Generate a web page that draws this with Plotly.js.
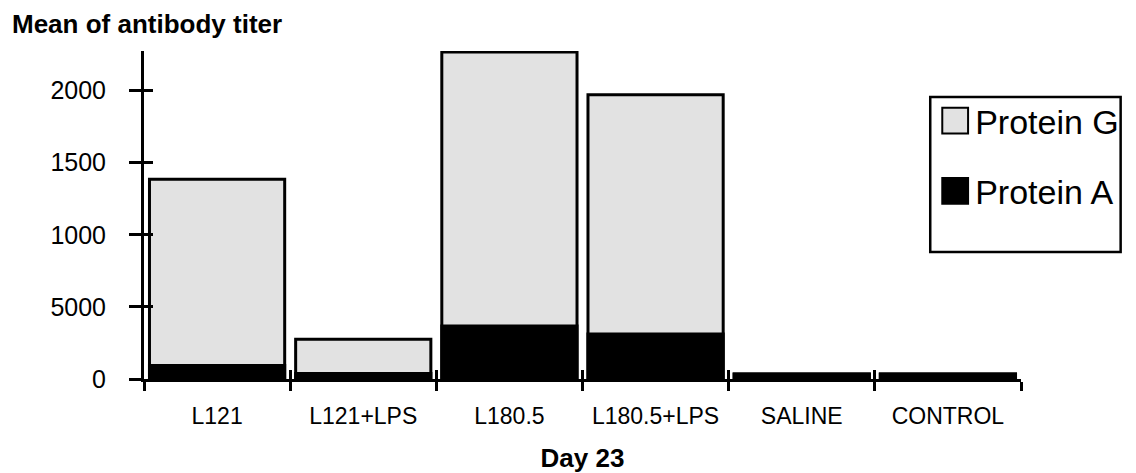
<!DOCTYPE html>
<html>
<head>
<meta charset="utf-8">
<script src="https://cdn.plot.ly/plotly-3.0.1.min.js"></script>
<style>html,body{margin:0;padding:0;background:#fff;}#chart{width:1136px;height:473px;}</style>
</head>
<body>
<div id="chart"></div>
<script>
const categories = ['L121', 'L121+LPS', 'L180.5', 'L180.5+LPS', 'SALINE', 'CONTROL'];
const proteinG = [13850, 2750, 22680, 19720, 350, 350];
const proteinA = [935, 380, 3670, 3115, 350, 350];
const yTickVals = [0, 5000, 10000, 15000, 20000];
const yTickText = ['0', '5000', '1000', '1500', '2000'];
const seriesNames = ['Protein G', 'Protein A'];

const FONT = 'Liberation Sans, Arial, sans-serif';
const W = 1136, H = 473;
const M = {l: 144, r: 103, t: 51, b: 94};
const plotW = W - M.l - M.r, plotH = H - M.t - M.b;
const px2x = p => (p - M.l) / plotW;
const px2y = p => 1 - (p - M.t) / plotH;

const traces = [
  {
    type: 'bar', x: categories, y: proteinG, name: seriesNames[0],
    marker: {color: '#e2e2e2', line: {color: '#000', width: 3}},
    legendgroup: 'g', hoverinfo: 'x+y'
  },
  {
    type: 'bar', x: categories, y: proteinA, name: seriesNames[1],
    marker: {color: '#000', line: {color: '#000', width: 3}},
    legendgroup: 'a', hoverinfo: 'x+y'
  },
  {
    type: 'bar', x: categories, y: proteinA, xaxis: 'x2', yaxis: 'y2',
    marker: {color: 'rgba(0,0,0,0)'}, showlegend: false, hoverinfo: 'skip'
  }
];

const layout = {
  width: W, height: H,
  margin: M,
  paper_bgcolor: '#fff', plot_bgcolor: '#fff',
  barmode: 'overlay', bargap: 0.075,
  font: {family: FONT, color: '#000'},
  title: {
    text: '<b>Mean of antibody titer</b>',
    font: {family: FONT, size: 26, color: '#000'},
    xref: 'container', yref: 'container', x: 12 / W, xanchor: 'left', y: 1 - 24 / H, yanchor: 'middle'
  },
  xaxis: {
    type: 'category', showline: true, linecolor: '#000', linewidth: 3,
    ticks: 'outside', ticklen: 9, tickwidth: 3, tickcolor: '#000', tickson: 'boundaries',
    tickfont: {family: FONT, size: 23, color: '#000'}, ticklabelstandoff: 14,
    showgrid: false, zeroline: false,
    title: {text: '<b>Day 23</b>', font: {family: FONT, size: 26, color: '#000'}, standoff: 22}
  },
  yaxis: {
    range: [0, 22750], showline: true, linecolor: '#000', linewidth: 3,
    tickvals: yTickVals, ticktext: yTickText,
    ticks: 'outside', ticklen: 12, tickwidth: 3, tickcolor: '#000',
    tickfont: {family: FONT, size: 25, color: '#000'}, ticklabelstandoff: 18,
    showgrid: false, zeroline: false
  },
  xaxis2: {
    type: 'category', overlaying: 'x', matches: 'x', showline: false,
    ticks: 'inside', ticklen: 9, tickwidth: 3, tickcolor: '#000', tickson: 'boundaries',
    showticklabels: false, showgrid: false, zeroline: false, anchor: 'y2', side: 'bottom'
  },
  yaxis2: {
    range: [0, 22750], overlaying: 'y', showline: false,
    tickvals: yTickVals, ticks: 'inside', ticklen: 9, tickwidth: 3, tickcolor: '#000',
    showticklabels: false, showgrid: false, zeroline: false, anchor: 'x2', side: 'left'
  },
  legend: {
    x: px2x(946), y: px2y(92), xanchor: 'left', yanchor: 'top',
    borderwidth: 0, bgcolor: 'rgba(0,0,0,0)',
    font: {family: FONT, size: 34, color: '#000'},
    traceorder: 'grouped', tracegroupgap: 23, itemwidth: 30
  },
  shapes: [{
    type: 'rect', xref: 'paper', yref: 'paper',
    x0: px2x(941), x1: px2x(1134), y0: px2y(97), y1: px2y(252),
    line: {color: '#000', width: 2.5}, fillcolor: 'rgba(0,0,0,0)', layer: 'above'
  }],
  showlegend: true
};

Plotly.newPlot('chart', traces, layout, {displayModeBar: false, staticPlot: true}).then(gd => {
  gd.querySelectorAll('.legend .legendpoints path').forEach(p => {
    const t = p.getAttribute('transform') || '';
    p.setAttribute('transform', t + ' scale(2.15)');
    p.style.vectorEffect = 'non-scaling-stroke';
    p.style.strokeWidth = '2px';
  });
});
</script>
</body>
</html>
